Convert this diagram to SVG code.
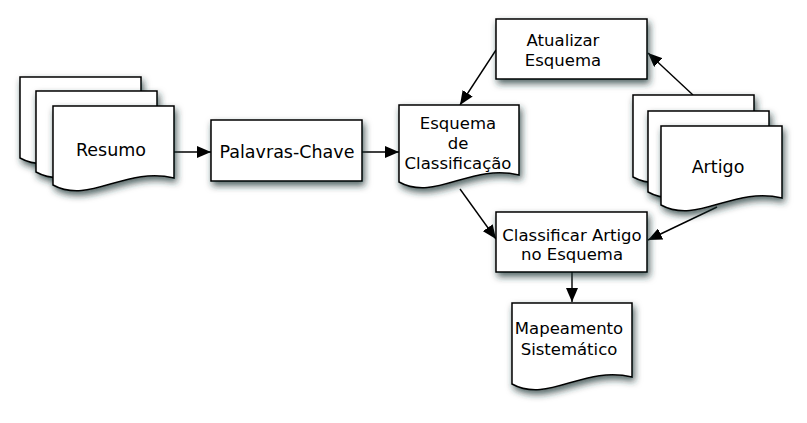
<svg xmlns="http://www.w3.org/2000/svg" width="807" height="423" viewBox="0 0 807 423">
<style>
.shape{fill:#fff;stroke:#000;stroke-width:1.5;filter:url(#sh)}
.t{font-family:"DejaVu Sans",Verdana,sans-serif;font-size:16.5px;fill:#000;text-anchor:middle}
.b{font-size:17.5px}
.c{stroke:#000;stroke-width:1.4;fill:none;marker-end:url(#ah)}
</style>
<defs>
<filter id="sh" x="-20%" y="-20%" width="150%" height="160%">
<feDropShadow dx="2" dy="4" stdDeviation="3.5" flood-color="#1a3030" flood-opacity="0.75"/>
</filter>
<marker id="ah" markerUnits="userSpaceOnUse" markerWidth="15" markerHeight="12" refX="14" refY="6" orient="auto" viewBox="0 0 15 12">
<path d="M0,0 L14,6 L0,12 Z" fill="#000"/>
</marker>
</defs>
<g id="connectors">
<line class="c" x1="174" y1="152" x2="211" y2="152"/>
<line class="c" x1="362" y1="152" x2="399" y2="152"/>
<line class="c" x1="496" y1="50" x2="460" y2="105"/>
<line class="c" x1="693" y1="95" x2="648" y2="53"/>
<line class="c" x1="460" y1="189" x2="496" y2="239"/>
<line class="c" x1="717" y1="207" x2="648" y2="240"/>
<line class="c" x1="572" y1="272" x2="572" y2="302"/>
</g>
<g id="resumo">
<path class="shape" d="M20,77 H141 V151 C92.6,139 56.3,178 20,158 Z"/>
<path class="shape" d="M36,91 H157 V165 C108.6,153 72.3,192 36,172 Z"/>
<path class="shape" d="M53,106 H174 V178 C125.6,166 89.3,205 53,185 Z"/>
<text class="t b" x="111" y="156">Resumo</text>
</g>
<g id="palavras-chave">
<rect class="shape" x="211" y="120" width="151" height="61"/>
<text class="t b" x="287" y="158">Palavras-Chave</text>
</g>
<g id="esquema">
<path class="shape" d="M399,105 H519 V175 C471,163 435,202 399,182 Z"/>
<text class="t" x="458" y="129">Esquema</text>
<text class="t" x="458" y="149">de</text>
<text class="t" x="458" y="169">Classificação</text>
</g>
<g id="atualizar">
<rect class="shape" x="496" y="19" width="151" height="60"/>
<text class="t" x="563" y="46">Atualizar</text>
<text class="t" x="563" y="66">Esquema</text>
</g>
<g id="artigo">
<path class="shape" d="M633,95 H754 V170 C705.6,158 669.3,197 633,177 Z"/>
<path class="shape" d="M648,111 H769 V185 C720.6,173 684.3,212 648,192 Z"/>
<path class="shape" d="M661,126 H782 V198 C733.6,186 697.3,225 661,205 Z"/>
<text class="t b" x="718" y="173">Artigo</text>
</g>
<g id="classificar">
<rect class="shape" x="496" y="212" width="151" height="60"/>
<text class="t" x="572" y="241">Classificar Artigo</text>
<text class="t" x="572" y="260">no Esquema</text>
</g>
<g id="mapeamento">
<path class="shape" d="M512,303 H632 V377 C584,365 548,404 512,384 Z"/>
<text class="t" x="569" y="334">Mapeamento</text>
<text class="t" x="569" y="355">Sistemático</text>
</g>
</svg>
